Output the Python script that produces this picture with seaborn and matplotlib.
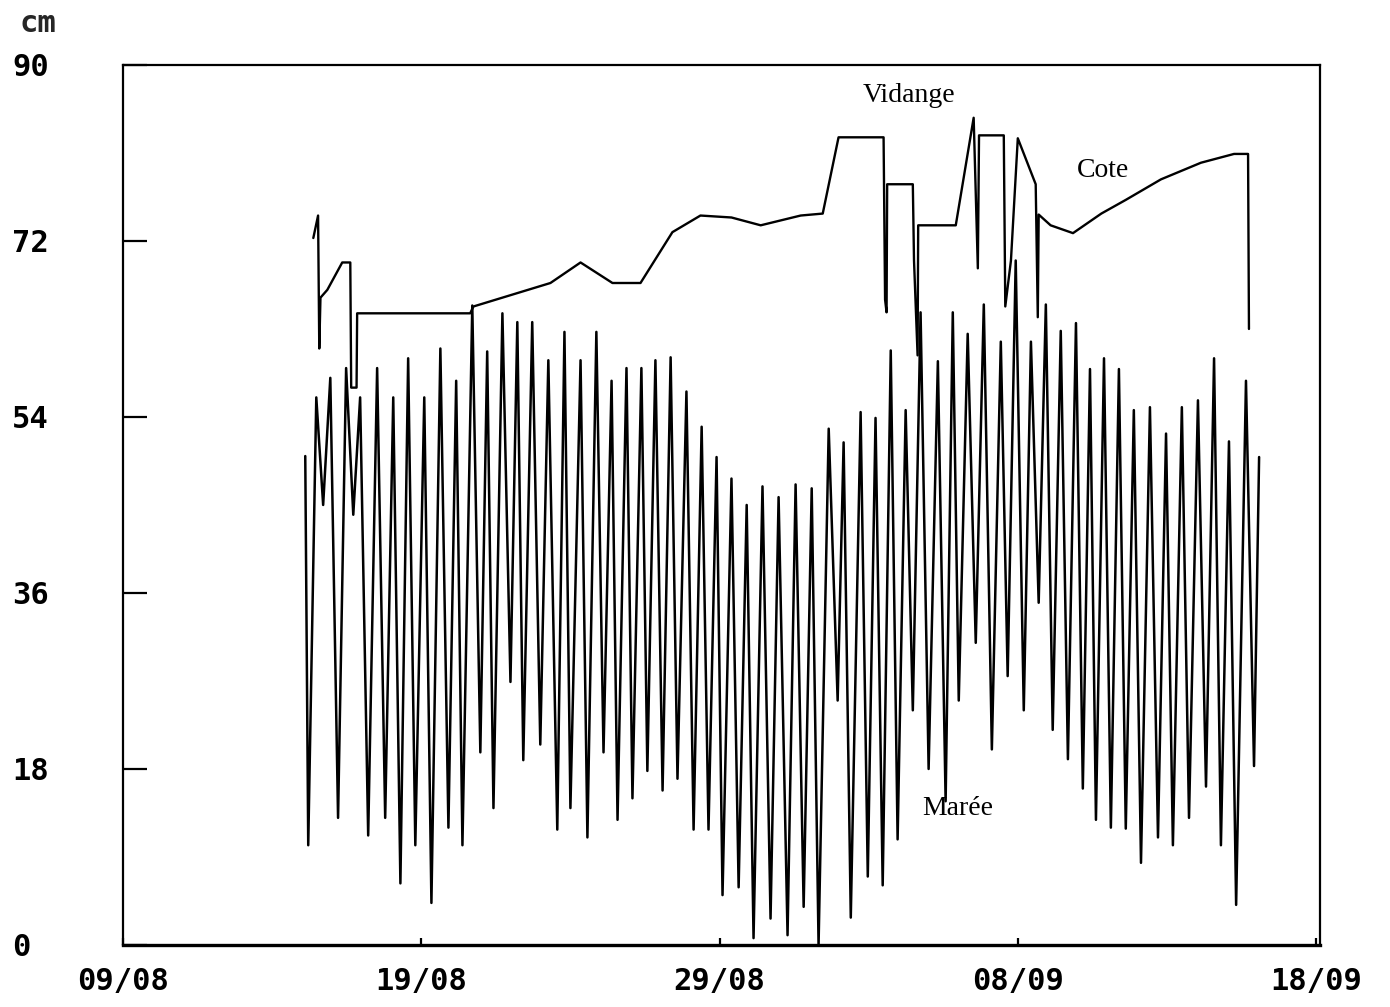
import numpy as np
import pandas as pd
import matplotlib
matplotlib.use("Agg")
import matplotlib.pyplot as plt
import matplotlib.dates as mdates
import seaborn as sns

# ---------------- data ----------------
# days elapsed since 09/08, tide extrema (Marée) and basin level (Cote)
maree_jours = [6.11, 6.21, 6.48, 6.71, 6.95, 7.21, 7.48, 7.72, 7.95, 8.22,
               8.52, 8.79, 9.06, 9.30, 9.56, 9.80, 10.10, 10.34, 10.64, 10.91,
               11.17, 11.38, 11.71, 11.98, 12.21, 12.42, 12.72, 12.99, 13.22, 13.42,
               13.72, 13.99, 14.26, 14.56, 14.80, 15.00, 15.34, 15.57, 15.87, 16.11,
               16.38, 16.58, 16.88, 17.08, 17.38, 17.58, 17.85, 18.09, 18.36, 18.59,
               18.89, 19.13, 19.40, 19.63, 19.90, 20.10, 20.40, 20.64, 20.91, 21.14,
               21.44, 21.71, 21.98, 22.28, 22.55, 22.82, 23.09, 23.32, 23.66, 23.96,
               24.16, 24.40, 24.73, 24.97, 25.23, 25.47, 25.74, 25.97, 26.24, 26.48,
               26.74, 27.01, 27.32, 27.58, 27.82, 28.02, 28.32, 28.59, 28.86, 29.13,
               29.43, 29.66, 29.93, 30.20, 30.44, 30.70, 30.94, 31.17, 31.44, 31.68,
               31.95, 32.18, 32.42, 32.62, 32.89, 33.12, 33.39, 33.62, 33.89, 34.13,
               34.43, 34.70, 34.97, 35.20, 35.50, 35.74, 36.04, 36.31, 36.58, 36.81,
               37.08, 37.32, 37.65, 37.92, 38.09]
maree_cm = [50, 10.2, 56, 45, 58, 13, 59, 44, 56, 11.2,
            59, 13, 56, 6.3, 60, 10.2, 56, 4.3, 61, 12,
            57.7, 10.2, 65.4, 19.7, 60.7, 14, 64.6, 26.9, 63.7, 18.9,
            63.7, 20.5, 59.8, 11.8, 62.7, 14, 59.8, 11, 62.7, 19.7,
            57.7, 12.8, 59, 15, 59, 17.8, 59.8, 15.8, 60.1, 17,
            56.6, 11.8, 53, 11.8, 49.9, 5.1, 47.7, 5.9, 45, 0.7,
            46.9, 2.7, 45.8, 1, 47.1, 3.9, 46.7, 0, 52.8, 25,
            51.4, 2.8, 54.5, 7, 53.9, 6.1, 60.8, 10.8, 54.7, 24,
            64.7, 18, 59.7, 14.7, 64.7, 25, 62.5, 30.9, 65.5, 20,
            61.7, 27.5, 70, 24, 61.7, 35, 65.5, 22, 62.8, 19,
            63.6, 16, 58.9, 12.8, 60, 12, 58.9, 11.9, 54.7, 8.4,
            55, 11, 52.3, 10.2, 55, 13, 55.7, 16.2, 60, 10.2,
            51.5, 4.1, 57.7, 18.3, 49.9]

cote_jours = [6.38, 6.54, 6.58, 6.62, 6.85, 7.35, 7.62, 7.65, 7.83, 7.85,
              11.64, 11.75, 14.33, 15.34, 16.41, 17.35, 18.42, 19.36, 20.40, 21.38,
              22.72, 23.46, 23.99, 25.50, 25.55, 25.60, 25.62, 26.48, 26.52, 26.64,
              26.66, 27.92, 28.52, 28.66, 28.70, 29.53, 29.58, 29.77, 30.00, 30.60,
              30.67, 30.70, 31.10, 31.85, 32.80, 33.62, 34.80, 36.14, 37.25, 37.72,
              37.75]
cote_cm = [72.3, 74.6, 61, 66.2, 67, 69.8, 69.8, 57, 57, 64.6,
           64.6, 65.3, 67.7, 69.8, 67.7, 67.7, 72.9, 74.6, 74.4, 73.6,
           74.6, 74.8, 82.6, 82.6, 66, 64.7, 77.8, 77.8, 70, 60.3,
           73.6, 73.6, 84.6, 69.2, 82.8, 82.8, 65.3, 70, 82.5, 77.8,
           64.2, 74.7, 73.6, 72.8, 74.8, 76.2, 78.3, 80, 80.9, 80.9,
           63]

y_ticks = [0, 18, 36, 54, 72, 90]
x_tick_days = [0, 10, 20, 30, 40]
x_tick_labels = ["09/08", "19/08", "29/08", "08/09", "18/09"]

labels = ["Vidange", "Cote", "Marée"]
label_days = [26.34, 32.85, 27.99]
label_cm = [86.9, 79.2, 14.0]

# ---------------- figure ----------------
sns.set_style("white")
plt.rcParams["font.family"] = ["DejaVu Sans Mono", "DejaVu Sans"]

base = pd.Timestamp("1988-08-09")
df_maree = pd.DataFrame({"date": base + pd.to_timedelta(maree_jours, unit="D"),
                         "cm": maree_cm})
df_cote = pd.DataFrame({"date": base + pd.to_timedelta(cote_jours, unit="D"),
                        "cm": cote_cm})

fig = plt.figure(figsize=(13.9, 10.07), dpi=100)
ax = fig.add_axes([0.0885, 0.0616, 0.8611, 0.8739])

sns.lineplot(data=df_maree, x="date", y="cm", ax=ax, color="black",
             linewidth=1.8, estimator=None, sort=False)
sns.lineplot(data=df_cote, x="date", y="cm", ax=ax, color="black",
             linewidth=1.7, estimator=None, sort=False)

ax.set_xlim(base, base + pd.Timedelta(days=40.13))
ax.set_ylim(0, 90)
ax.set_xlabel("")
ax.set_ylabel("")

tick_dates = [base + pd.Timedelta(days=d) for d in x_tick_days]
ax.set_xticks(tick_dates)
ax.set_xticklabels(x_tick_labels, fontsize=22, fontweight="bold")
ax.set_yticks(y_ticks)
ax.set_yticklabels([str(v) for v in y_ticks], fontsize=22, fontweight="bold",
                   ha="left")

ax.tick_params(axis="y", which="major", left=True, direction="in", length=17,
               width=1.6, pad=80, colors="black")
ax.tick_params(axis="x", which="major", bottom=True, direction="in", length=5,
               width=1.6, pad=16, colors="black")

for side, sp in ax.spines.items():
    sp.set_visible(True)
    sp.set_color("black")
    sp.set_linewidth(1.6)
ax.spines["bottom"].set_linewidth(2.4)

for txt, d, v in zip(labels, label_days, label_cm):
    xd = mdates.date2num((base + pd.Timedelta(days=d)).to_pydatetime())
    ax.text(xd, v, txt, family=["Liberation Serif", "DejaVu Serif"],
            fontsize=20, ha="center", va="center", color="black")

fig.text(20 / 1390, 1 - 24 / 1007, "cm", ha="left", va="center",
         fontsize=22, fontweight="bold")

fig.savefig("out.png", dpi=100, facecolor="white")
